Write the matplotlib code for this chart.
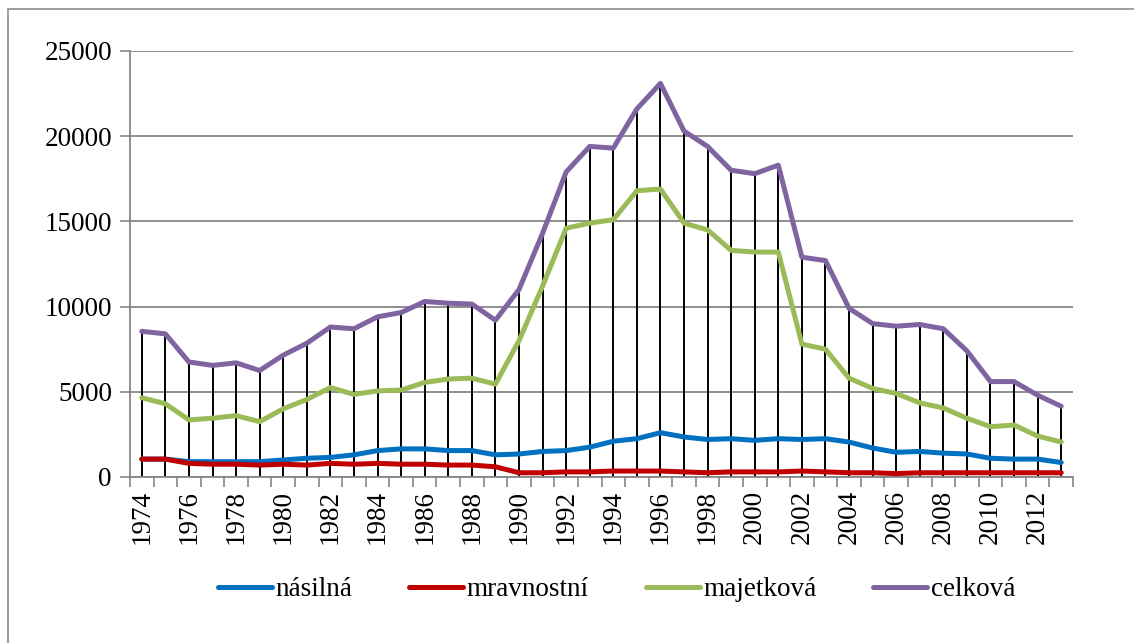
import matplotlib
matplotlib.use("Agg")
import matplotlib.pyplot as plt
import numpy as np
from matplotlib.patches import Rectangle

years = list(range(1974, 2014))
nasilna = [1050, 1050, 900, 900, 900, 900, 1000, 1100, 1150, 1300,
           1550, 1650, 1650, 1550, 1550, 1300, 1350, 1500, 1550, 1750,
           2100, 2250, 2600, 2350, 2200, 2250, 2150, 2250, 2200, 2250,
           2050, 1700, 1450, 1500, 1400, 1350, 1100, 1050, 1050, 850]
mravnostni = [1050, 1050, 800, 750, 750, 700, 750, 700, 800, 750,
              800, 750, 750, 700, 700, 600, 250, 250, 300, 300,
              350, 350, 350, 300, 250, 300, 300, 300, 350, 300,
              250, 250, 200, 250, 250, 250, 250, 250, 250, 250]
majetkova = [4650, 4300, 3350, 3450, 3600, 3250, 4000, 4550, 5250, 4850,
             5050, 5100, 5550, 5750, 5800, 5450, 8000, 11200, 14600, 14900,
             15100, 16800, 16900, 14900, 14500, 13300, 13200, 13200, 7800, 7500,
             5800, 5200, 4900, 4350, 4050, 3450, 2950, 3050, 2400, 2050]
celkova = [8550, 8400, 6750, 6550, 6700, 6250, 7150, 7850, 8800, 8700,
           9400, 9650, 10300, 10200, 10150, 9200, 11000, 14300, 17900, 19400,
           19300, 21600, 23100, 20300, 19400, 18000, 17800, 18300, 12900, 12700,
           9900, 9000, 8850, 8950, 8700, 7400, 5600, 5600, 4800, 4150]
labels = ["násilná", "mravnostní", "majetková", "celková"]
colors = ["#0070C0", "#C00000", "#9BBB59", "#8064A2"]

plt.rcParams['font.family'] = ['Liberation Serif', 'DejaVu Serif']

fig = plt.figure(figsize=(11.34, 6.43), dpi=100)
fig.patches.append(Rectangle((8/1134, -0.05), 1.2, 1 - 9/643 + 0.05,
                             transform=fig.transFigure, fill=False,
                             edgecolor="#8c8c8c", linewidth=1.2))
ax = fig.add_axes([130/1134, 1-477/643, 943/1134, 426/643])

x = np.arange(len(years))
ax.vlines(x, 0, celkova, colors="black", linewidth=1.4, zorder=2)
for vals, lab, col in zip([nasilna, mravnostni, majetkova, celkova], labels, colors):
    ax.plot(x, vals, color=col, linewidth=3.6, label=lab, zorder=3,
            solid_joinstyle="round", solid_capstyle="round")

ax.set_xlim(-0.5, len(years) - 0.5)
ax.set_ylim(0, 25000)
ax.set_yticks(np.arange(0, 25001, 5000))
ax.tick_params(axis="y", labelsize=19.5, length=7, color="#868686", width=1.2, pad=6)
ax.grid(axis="y", color="#868686", linewidth=1.3)
ax.set_axisbelow(True)

ax.set_xticks(x[::2])
ax.set_xticklabels([str(y) for y in years[::2]], rotation=90, fontsize=19.5)
ax.set_xticks(np.arange(-0.5, len(years), 1), minor=True)
ax.tick_params(axis="x", which="major", length=0, pad=9)
ax.tick_params(axis="x", which="minor", length=7, color="#868686", width=1.2)

for s in ["top", "right"]:
    ax.spines[s].set_visible(False)
for s in ["left", "bottom"]:
    ax.spines[s].set_color("#868686")
    ax.spines[s].set_linewidth(1.3)

ax.legend(loc="center left", bbox_to_anchor=(218/1134, (643-590)/643),
          bbox_transform=fig.transFigure, borderpad=0, borderaxespad=0,
          ncol=4, frameon=False, fontsize=19.5, handlelength=2.0,
          handletextpad=0.12, columnspacing=2.1)

fig.savefig("out.png", dpi=100)
